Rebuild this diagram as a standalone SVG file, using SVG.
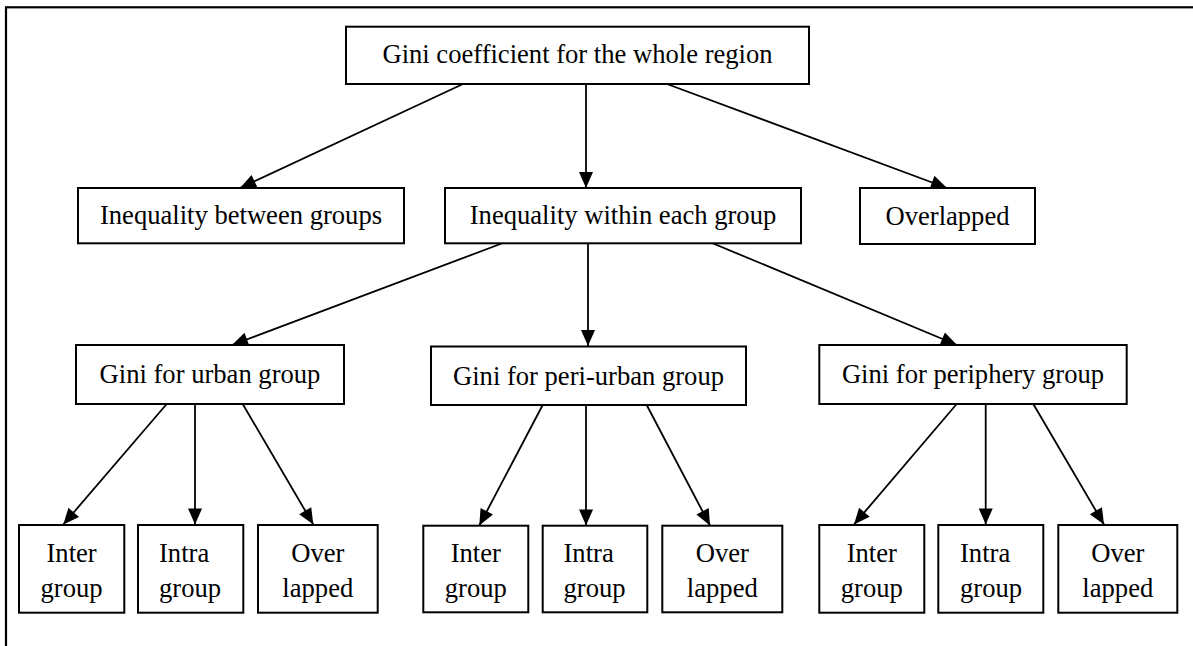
<svg xmlns="http://www.w3.org/2000/svg" width="1193" height="646" viewBox="0 0 1193 646">
<defs>
<marker id="ah" markerUnits="userSpaceOnUse" markerWidth="17" markerHeight="15" refX="16" refY="7" orient="auto" overflow="visible">
<path d="M0,0 L16,7 L0,14 z" fill="#000"/>
</marker>
<style>
.box{fill:#fff;stroke:#000;stroke-width:2}
.t{font-family:"Liberation Serif","Times New Roman",serif;font-size:26.6px;fill:#000;text-anchor:middle}
.ts{font-family:"Liberation Serif","Times New Roman",serif;font-size:26.6px;fill:#000}
.c{stroke:#000;stroke-width:1.8;fill:none;marker-end:url(#ah)}
</style>
</defs>
<rect x="0" y="0" width="1193" height="646" fill="#fff"/>
<rect x="6" y="7.3" width="1200" height="660" fill="none" stroke="#000" stroke-width="2.2"/>
<g id="connectors">
<line class="c" x1="463" y1="84" x2="240" y2="188"/>
<line class="c" x1="586" y1="84" x2="586" y2="188"/>
<line class="c" x1="667" y1="84" x2="947" y2="188"/>
<line class="c" x1="503" y1="243" x2="232" y2="345"/>
<line class="c" x1="588" y1="243" x2="588" y2="346"/>
<line class="c" x1="712" y1="243" x2="957" y2="345"/>
<line class="c" x1="166.7" y1="404" x2="63.3" y2="524.5"/>
<line class="c" x1="195" y1="404" x2="195" y2="524.5"/>
<line class="c" x1="242.7" y1="404" x2="313.3" y2="524.5"/>
<line class="c" x1="542.7" y1="405" x2="479.3" y2="525.5"/>
<line class="c" x1="586" y1="405" x2="586" y2="525.5"/>
<line class="c" x1="646.7" y1="405" x2="710" y2="525.5"/>
<line class="c" x1="956.7" y1="404" x2="854" y2="524.5"/>
<line class="c" x1="985.7" y1="404" x2="985.7" y2="524.5"/>
<line class="c" x1="1033.3" y1="404" x2="1104" y2="524.5"/>
</g>
<g id="n-top"><rect class="box" x="346" y="26.7" width="463" height="57.3"/><text class="t" x="577.5" y="63">Gini coefficient for the whole region</text></g>
<g id="n-between"><rect class="box" x="78" y="188" width="326" height="55.3"/><text class="t" x="241" y="224">Inequality between groups</text></g>
<g id="n-within"><rect class="box" x="445" y="188" width="356" height="55.3"/><text class="t" x="623" y="224">Inequality within each group</text></g>
<g id="n-overlapped"><rect class="box" x="860" y="188" width="175" height="56"/><text class="t" x="947.5" y="224.5">Overlapped</text></g>
<g id="n-urban"><rect class="box" x="76" y="345" width="268" height="59"/><text class="t" x="210" y="383">Gini for urban group</text></g>
<g id="n-periurban"><rect class="box" x="431" y="346.5" width="315" height="58.5"/><text class="t" x="588.5" y="384.5">Gini for peri-urban group</text></g>
<g id="n-periphery"><rect class="box" x="819.3" y="345" width="307.4" height="59"/><text class="t" x="973" y="383">Gini for periphery group</text></g>
<g id="n-u-inter"><rect class="box" x="19" y="525" width="105.3" height="87.7"/><text class="t" x="71.6" y="561.7">Inter<tspan x="71.6" y="596.7">group</tspan></text></g>
<g id="n-u-intra"><rect class="box" x="138" y="525" width="105.3" height="87.7"/><text class="ts" x="159" y="561.7">Intra<tspan x="159" y="596.7">group</tspan></text></g>
<g id="n-u-over"><rect class="box" x="258" y="525" width="119.7" height="87.7"/><text class="t" x="317.8" y="561.7">Over<tspan x="317.8" y="596.7">lapped</tspan></text></g>
<g id="n-p-inter"><rect class="box" x="423.3" y="525.7" width="105" height="86.6"/><text class="t" x="475.8" y="561.7">Inter<tspan x="475.8" y="596.7">group</tspan></text></g>
<g id="n-p-intra"><rect class="box" x="542.7" y="525.7" width="104.6" height="86.6"/><text class="ts" x="563.5" y="561.7">Intra<tspan x="563.5" y="596.7">group</tspan></text></g>
<g id="n-p-over"><rect class="box" x="662.3" y="525.7" width="120" height="86.6"/><text class="t" x="722.3" y="561.7">Over<tspan x="722.3" y="596.7">lapped</tspan></text></g>
<g id="n-f-inter"><rect class="box" x="819.3" y="525" width="105" height="87.7"/><text class="t" x="871.8" y="561.7">Inter<tspan x="871.8" y="596.7">group</tspan></text></g>
<g id="n-f-intra"><rect class="box" x="938.3" y="525" width="105" height="87.7"/><text class="ts" x="960" y="561.7">Intra<tspan x="960" y="596.7">group</tspan></text></g>
<g id="n-f-over"><rect class="box" x="1058.3" y="525" width="119" height="87.7"/><text class="t" x="1117.8" y="561.7">Over<tspan x="1117.8" y="596.7">lapped</tspan></text></g>
</svg>
